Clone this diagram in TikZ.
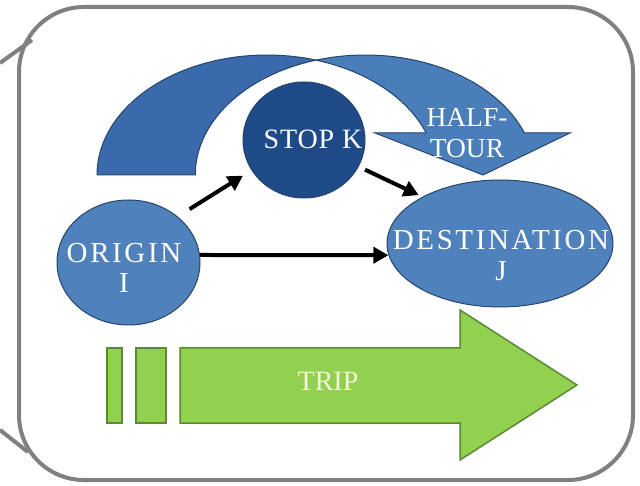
\documentclass[tikz,border=0pt]{standalone}
\usepackage{fontspec}
\setmainfont{Liberation Serif}
\newfontfamily\spA[LetterSpace=9]{Liberation Serif}
\newfontfamily\spB[LetterSpace=3]{Liberation Serif}
\newfontfamily\spC[LetterSpace=0]{Liberation Serif}
\newfontfamily\spD[LetterSpace=0]{Liberation Serif}
\usetikzlibrary{arrows.meta,shapes.geometric}
\definecolor{framegray}{HTML}{808080}
\definecolor{nodeblue}{HTML}{4F81BD}
\definecolor{nodeline}{HTML}{27446B}
\definecolor{stopblue}{HTML}{1E4B87}
\definecolor{arcleft}{HTML}{3A6AAB}
\definecolor{arcright}{HTML}{4A7EBB}
\definecolor{tripfill}{HTML}{92D050}
\definecolor{tripline}{HTML}{5B8A32}
\definecolor{triptext}{HTML}{F2F7D8}
\tikzset{
  frame/.style={draw=framegray, line width=4pt},
  ell/.style={ellipse, draw=nodeline, line width=1pt, inner sep=0pt},
  txt/.style={text=white, align=center, inner sep=0pt},
  conn/.style={draw=black, line width=4pt, -{Triangle[length=15pt,width=16pt]}},
  arcbody/.style={draw=nodeline, line width=1pt},
  greenbox/.style={fill=tripfill, draw=tripline, line width=1.5pt}
}
\begin{document}
\begin{tikzpicture}[x=1pt,y=1pt]
\useasboundingbox (0,0) rectangle (640,485);
\fill[white] (0,0) rectangle (640,485);

% callout frame
\draw[frame, rounded corners=65pt] (19,5) rectangle (633,478);
\coordinate (ta1) at (0,422);
\coordinate (ta2) at (32,445);
\coordinate (tb1) at (0,55);
\coordinate (tb2) at (28,33);
\draw[frame] (ta1) -- (ta2);
\draw[frame] (tb1) -- (tb2);

% curved half-tour arrow
\path[arcbody, fill=arcleft] (97,310)
  arc[start angle=180, end angle=73.2, x radius=170pt, y radius=120pt]
  arc[start angle=106.8, end angle=180, x radius=170pt, y radius=120pt]
  -- cycle;
\path[arcbody, fill=arcright] (426.2,352)
  arc[start angle=20.5, end angle=73.2, x radius=170pt, y radius=120pt]
  arc[start angle=106.8, end angle=20.5, x radius=170pt, y radius=120pt]
  -- (570,352) -- (483,310) -- (375,352) -- cycle;

% nodes
\node[ell, fill=nodeblue, minimum width=143pt, minimum height=125pt] (o) at (128.5,222.5) {};
\node[ell, fill=stopblue, minimum width=122pt, minimum height=116pt] (k) at (304,345) {};
\node[ell, fill=nodeblue, minimum width=226pt, minimum height=127pt] (d) at (500,241.5) {};

\node[txt, font=\spA\fontsize{29}{30}\selectfont] (ot) at (124,217.5) {ORIGIN\\I};
\node[txt, font=\spB\fontsize{28}{30}\selectfont] (kt) at (313,345.5) {STOP K};
\node[txt, font=\spA\fontsize{29}{31}\selectfont] (dt) at (501,229.5) {DESTINATION\\J};
\node[txt, font=\spC\fontsize{27.5}{31}\selectfont] (ht) at (467,352) {HALF-\\TOUR};

% connectors
\draw[conn, shorten <=14pt, shorten >=10pt] (o.43) -- (k.210);
\draw[conn, shorten <=7pt, shorten >=4pt] (k.-26) -- (d.149);
\draw[conn] (o.6) -- (d.186);

% trip arrow
\path[greenbox] (107,62) rectangle (122,137);
\path[greenbox] (136,62) rectangle (166,137);
\path[greenbox] (180,62) -- (180,137) -- (460,137) -- (460,175) -- (577,100)
  -- (460,25) -- (460,62) -- cycle;
\node[txt, text=triptext, font=\spD\fontsize{28}{30}\selectfont] (tt) at (328,104) {TRIP};
\end{tikzpicture}
\end{document}
